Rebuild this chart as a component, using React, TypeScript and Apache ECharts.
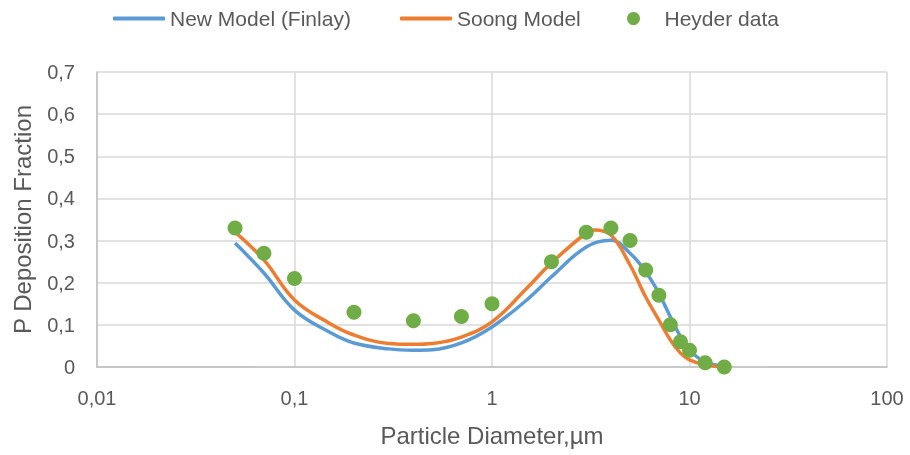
import React, { useEffect, useRef } from "react";
import * as echarts from "echarts";

const finlayX = [0.05, 0.07, 0.1, 0.15, 0.2, 0.3, 0.4, 0.5, 0.7, 1, 1.5, 2, 3, 4, 5, 6, 7, 8, 9, 10, 12, 15];
const finlayY = [0.294, 0.223, 0.135, 0.083, 0.057, 0.043, 0.04, 0.041, 0.057, 0.095, 0.159, 0.214, 0.285, 0.301, 0.27, 0.226, 0.175, 0.119, 0.072, 0.04, 0.012, 0.002];

const soongX = [0.05, 0.07, 0.1, 0.15, 0.2, 0.3, 0.4, 0.5, 0.7, 1, 1.5, 2, 3, 3.3, 4, 5, 6, 7, 8, 9, 10, 12, 15];
const soongY = [0.32, 0.254, 0.159, 0.104, 0.076, 0.056, 0.054, 0.056, 0.071, 0.107, 0.187, 0.247, 0.318, 0.325, 0.313, 0.242, 0.166, 0.111, 0.064, 0.033, 0.017, 0.005, 0.0];

const heyderX = [0.05, 0.07, 0.1, 0.2, 0.4, 0.7, 1, 2, 3, 4, 5, 6, 7, 8, 9, 10, 12, 15];
const heyderY = [0.33, 0.27, 0.21, 0.13, 0.11, 0.12, 0.15, 0.25, 0.32, 0.33, 0.3, 0.23, 0.17, 0.1, 0.06, 0.04, 0.01, 0.0];

const seriesNames = ["New Model (Finlay)", "Soong Model", "Heyder data"];
const xTitle = "Particle Diameter,µm";
const yTitle = "P Deposition Fraction";

const FONT = "Liberation Sans, Arial, sans-serif";
const TXT = "#595959";
const BLUE = "#5B9BD5";
const ORANGE = "#ED7D31";
const GREEN = "#70AD47";

function fmtX(v: number): string {
  return String(v).replace(".", ",");
}

const legendText = { fontFamily: FONT, fontSize: 21, color: TXT };

export default function App() {
  const ref = useRef<HTMLDivElement>(null);
  useEffect(() => {
    if (!ref.current) return;
    const chart = echarts.init(ref.current, null, { renderer: "svg" });
    chart.setOption({
      animation: false,
      textStyle: { fontFamily: FONT },
      legend: [
        {
          top: 8,
          left: 113,
          padding: 0,
          itemWidth: 52,
          itemHeight: 4,
          icon: "roundRect",
          textStyle: legendText,
          data: [{ name: seriesNames[0] }],
        },
        {
          top: 8,
          left: 400,
          padding: 0,
          itemWidth: 52,
          itemHeight: 4,
          icon: "roundRect",
          textStyle: legendText,
          data: [{ name: seriesNames[1] }],
        },
        {
          top: 8,
          left: 627,
          padding: 0,
          itemWidth: 52,
          itemHeight: 13,
          icon: "circle",
          textStyle: legendText,
          data: [{ name: seriesNames[2] }],
        },
      ],
      grid: { left: 97, right: 23, top: 72, bottom: 88 },
      xAxis: {
        type: "log",
        logBase: 10,
        min: 0.01,
        max: 100,
        name: xTitle,
        nameLocation: "middle",
        nameGap: 56,
        nameTextStyle: { fontFamily: FONT, fontSize: 24, color: TXT },
        axisLine: { show: true, lineStyle: { color: "#BFBFBF", width: 1.5 } },
        axisTick: { show: false },
        splitLine: { show: true, lineStyle: { color: "#D9D9D9", width: 1.5 } },
        minorSplitLine: { show: false },
        axisLabel: {
          fontFamily: FONT,
          fontSize: 20,
          color: TXT,
          margin: 21,
          formatter: (v: number) => fmtX(v),
        },
      },
      yAxis: {
        type: "value",
        min: 0,
        max: 0.7,
        interval: 0.1,
        name: yTitle,
        nameLocation: "middle",
        nameGap: 63,
        nameRotate: 90,
        nameTextStyle: { fontFamily: FONT, fontSize: 24, color: TXT },
        axisLine: { show: true, lineStyle: { color: "#BFBFBF", width: 1.5 } },
        axisTick: { show: false },
        splitLine: { show: true, lineStyle: { color: "#D9D9D9", width: 1.5 } },
        axisLabel: {
          fontFamily: FONT,
          fontSize: 20,
          color: TXT,
          margin: 22,
          formatter: (v: number) => (v === 0 ? "0" : v.toFixed(1).replace(".", ",")),
        },
      },
      series: [
        {
          name: seriesNames[0],
          type: "line",
          smooth: 0.4,
          symbol: "none",
          showSymbol: false,
          lineStyle: { color: BLUE, width: 3.5 },
          itemStyle: { color: BLUE },
          data: finlayX.map((x, i) => [x, finlayY[i]]),
        },
        {
          name: seriesNames[1],
          type: "line",
          smooth: 0.4,
          symbol: "none",
          showSymbol: false,
          lineStyle: { color: ORANGE, width: 3.5 },
          itemStyle: { color: ORANGE },
          data: soongX.map((x, i) => [x, soongY[i]]),
        },
        {
          name: seriesNames[2],
          type: "scatter",
          symbol: "circle",
          symbolSize: 15,
          itemStyle: { color: GREEN, opacity: 1 },
          data: heyderX.map((x, i) => [x, heyderY[i]]),
          z: 5,
        },
      ],
    });
    return () => chart.dispose();
  }, []);
  return (
    <div
      ref={ref}
      style={{ position: "fixed", left: 0, top: 0, width: 910, height: 455 }}
    />
  );
}
